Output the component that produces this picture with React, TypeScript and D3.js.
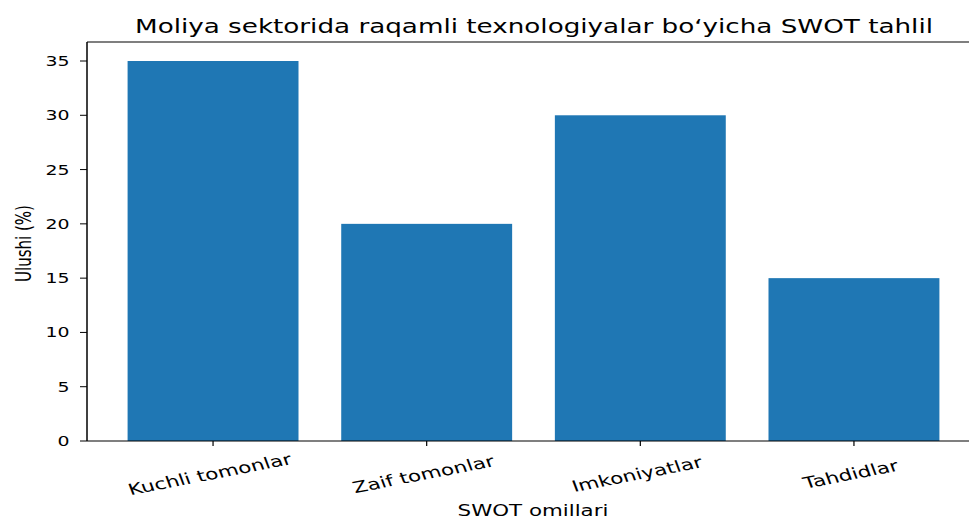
import React from "react";
import * as d3 from "d3";

const categories = ["Kuchli tomonlar", "Zaif tomonlar", "Imkoniyatlar", "Tahdidlar"];
const values = [35, 20, 30, 15];
const yTicks = [0, 5, 10, 15, 20, 25, 30, 35];
const title = "Moliya sektorida raqamli texnologiyalar bo\u2018yicha SWOT tahlil";
const xLabel = "SWOT omillari";
const yLabel = "Ulushi (%)";

export default function App() {
  const W = 969, H = 518;
  const sx = 1.38; // horizontal stretch of the reference image
  const left = 87, right = 980, top = 42, bottom = 441;
  const x = d3.scaleLinear().domain([-0.59, 3.59]).range([left, right]);
  const y = d3.scaleLinear().domain([0, 36.75]).range([bottom, top]);
  const bw = x(0.8) - x(0);
  const font = "DejaVu Sans, sans-serif";
  return (
    <svg width={W} height={H} style={{ position: "absolute", left: 0, top: 0, background: "#fff" }}>
      <rect x={0} y={0} width={W} height={H} fill="#fff" />
      {values.map((v, i) => (
        <rect key={i} x={x(i) - bw / 2} y={y(v)} width={bw} height={y(0) - y(v)} fill="#1f77b4" />
      ))}
      <line x1={left} x2={left} y1={top} y2={bottom} stroke="#000" strokeWidth={1.5} />
      <line x1={left} x2={W} y1={bottom} y2={bottom} stroke="#000" strokeWidth={1.1} />
      <line x1={left} x2={W} y1={top} y2={top} stroke="#000" strokeWidth={1.1} />
      {yTicks.map((t) => (
        <g key={t}>
          <line x1={left - 7} x2={left} y1={y(t)} y2={y(t)} stroke="#000" strokeWidth={1} />
          <text transform={`translate(${left - 17.5},${y(t)}) scale(${sx},1)`} dy="0.36em" textAnchor="end" fontFamily={font} fontSize={13.7} fill="#000">{t}</text>
        </g>
      ))}
      {categories.map((c, i) => (
        <g key={c}>
          <line x1={x(i)} x2={x(i)} y1={bottom} y2={bottom + 5} stroke="#000" strokeWidth={1.2} />
          <text transform={`translate(${x(i) - 3},${475}) scale(${sx},1) rotate(-15)`} textAnchor="middle" dy="0.3em" fontFamily={font} fontSize={15.6} fill="#000">{c}</text>
        </g>
      ))}
      <text transform={`translate(533,515.5) scale(${sx},1)`} textAnchor="middle" fontFamily={font} fontSize={15.5} fill="#000">{xLabel}</text>
      <text transform={`translate(23.5,243.5) scale(${sx},1) rotate(-90)`} textAnchor="middle" dy="0.35em" fontFamily={font} fontSize={15} fill="#000">{yLabel}</text>
      <text transform={`translate(534,33) scale(${sx},1)`} textAnchor="middle" fontFamily={font} fontSize={19} fill="#000">{title}</text>
    </svg>
  );
}
